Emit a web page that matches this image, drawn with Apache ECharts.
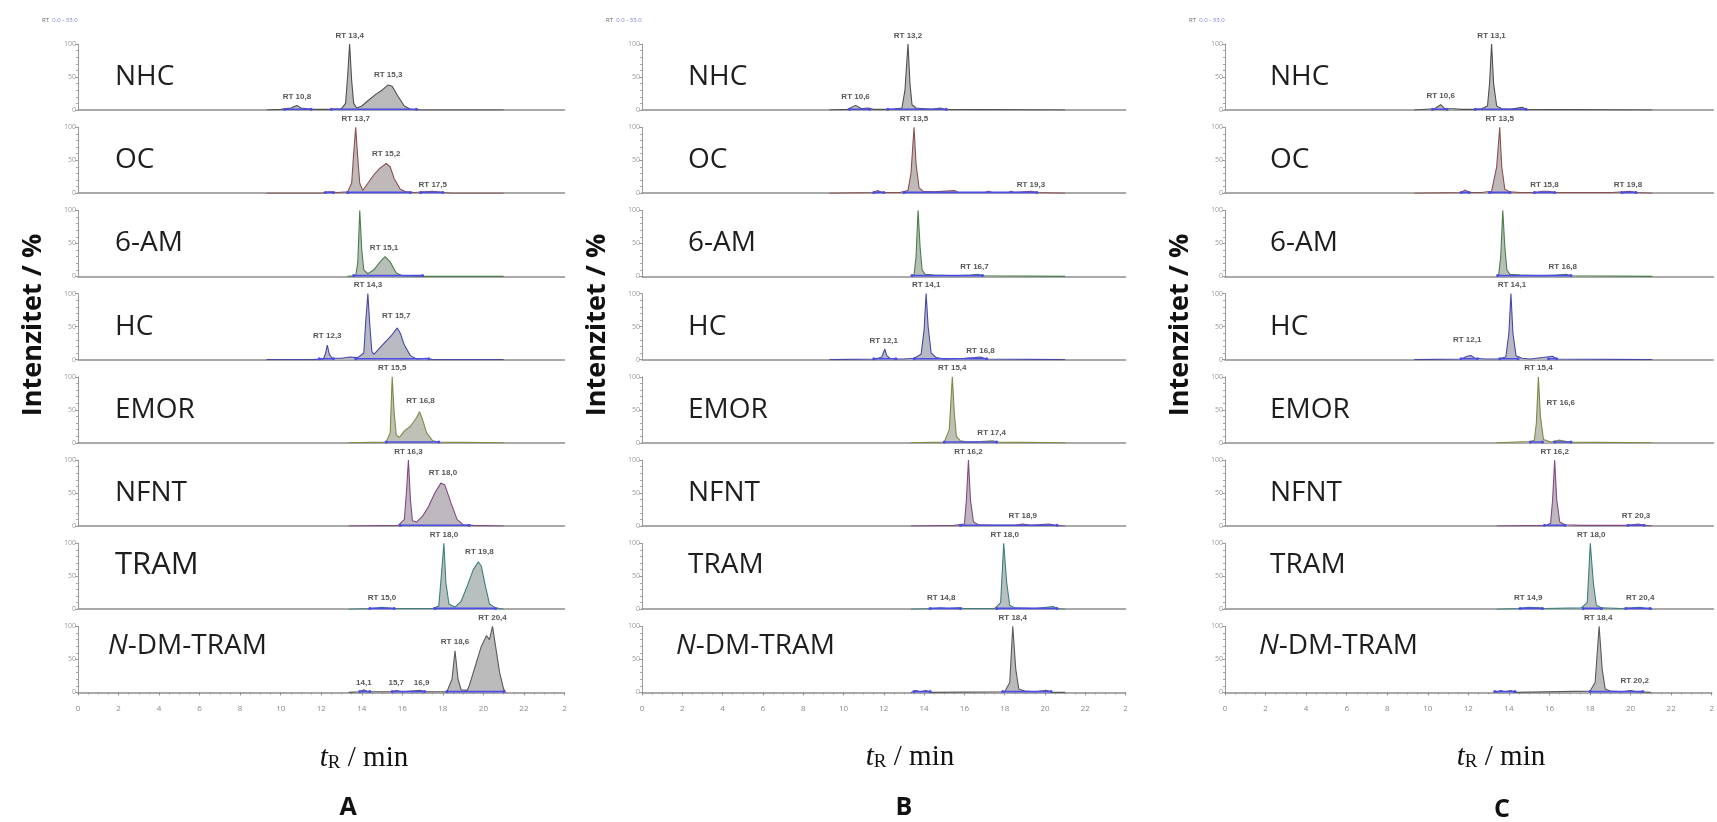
<!DOCTYPE html>
<html><head><meta charset="utf-8">
<script src="https://cdn.jsdelivr.net/npm/echarts@6/dist/echarts.min.js"></script>
<style>html,body{margin:0;padding:0;background:#fff}#c{width:1717px;height:822px}</style>
</head><body><div id="c"></div>
<script>
// ---------- categories & tick labels ----------
const compounds = ['NHC','OC','6-AM','HC','EMOR','NFNT','TRAM','N-DM-TRAM'];
const panelNames = ['A','B','C'];
const xTickLabels = ['0','2','4','6','8','10','12','14','16','18','20','22','2'];
const yTickLabels = {0:'0',50:'50',100:'100'};

// ---------- panel A traces [time min, intensity %] ----------
const A_NHC = [[9.3,0],[10.0,1],[10.5,3],[10.8,7],[11.0,3],[11.3,2],[11.6,1],[12.5,1],[13.0,2],[13.2,10],[13.3,50],[13.4,100],[13.5,45],[13.6,10],[13.75,3],[14.0,6],[14.3,14],[14.7,24],[15.0,30],[15.3,38],[15.5,36],[15.8,20],[16.1,6],[16.4,1],[17.0,0],[21.0,0]];
const A_OC = [[9.3,0],[12.0,0],[12.4,2],[12.8,1],[13.3,2],[13.5,15],[13.6,60],[13.7,100],[13.8,55],[13.9,15],[14.05,4],[14.3,15],[14.6,28],[14.9,38],[15.2,45],[15.4,40],[15.6,22],[15.9,6],[16.2,2],[16.6,1],[17.5,3],[18.0,1],[18.5,0],[21.0,0]];
const A_6AM = [[13.3,0],[13.7,1],[13.8,20],[13.9,100],[14.0,40],[14.1,10],[14.3,4],[14.6,10],[14.9,22],[15.15,30],[15.4,22],[15.7,5],[16.0,1],[17.0,0],[21.0,0]];
const A_HC = [[9.3,0],[11.5,0],[12.1,1],[12.2,8],[12.3,22],[12.4,8],[12.55,2],[13.0,2],[13.4,4],[13.8,3],[14.1,10],[14.2,60],[14.3,100],[14.4,50],[14.5,12],[14.6,8],[14.9,18],[15.2,28],[15.5,38],[15.75,48],[15.9,40],[16.1,22],[16.4,6],[16.7,1],[17.2,2],[17.5,0],[21.0,0]];
const A_EMOR = [[13.35,0],[15.2,1],[15.4,15],[15.5,100],[15.6,45],[15.7,12],[15.85,8],[16.1,18],[16.4,25],[16.7,38],[16.85,47],[17.0,35],[17.2,15],[17.5,3],[17.8,1],[21.0,0]];
const A_NFNT = [[13.35,0],[15.8,1],[16.1,10],[16.2,50],[16.3,100],[16.4,40],[16.5,8],[16.7,6],[17.0,15],[17.3,30],[17.6,50],[17.9,65],[18.1,62],[18.4,35],[18.7,10],[19.0,2],[19.5,1],[21.0,0]];
const A_TRAM = [[13.35,0],[14.5,1],[15.0,3],[15.5,1],[16.5,1],[17.5,1],[17.8,5],[17.95,60],[18.05,100],[18.15,40],[18.3,8],[18.6,3],[18.9,12],[19.2,35],[19.5,60],[19.75,72],[19.9,65],[20.1,35],[20.3,8],[20.6,2],[21.0,0]];
const A_NDM = [[13.35,0],[13.9,1],[14.1,4],[14.3,1],[15.5,1],[15.7,3],[16.0,1],[16.9,3],[17.2,1],[18.2,1],[18.45,20],[18.6,63],[18.75,20],[18.9,4],[19.2,3],[19.3,10],[19.6,40],[19.9,70],[20.15,86],[20.3,80],[20.45,100],[20.6,70],[20.8,30],[21.0,5],[21.1,0]];

// ---------- panel B traces ----------
const B_NHC = [[9.3,0],[10.2,1],[10.6,7],[10.9,2],[11.2,3],[11.5,1],[12.4,1],[12.9,3],[13.05,30],[13.2,100],[13.3,40],[13.4,8],[13.6,3],[14.0,2],[14.4,1],[14.8,3],[15.0,1],[21.0,0]];
const B_OC = [[9.3,0],[11.5,1],[11.7,4],[11.9,1],[12.8,1],[13.2,4],[13.35,30],[13.5,100],[13.6,45],[13.75,8],[13.95,3],[14.5,2],[15.5,4],[15.7,1],[17.0,1],[17.2,3],[17.4,1],[18.2,1],[18.3,3],[18.5,1],[19.3,3],[19.6,1],[21.0,0]];
const B_6AM = [[13.35,0],[13.5,2],[13.6,30],[13.7,100],[13.8,45],[13.9,10],[14.05,3],[14.5,2],[15.5,1],[16.3,2],[16.7,3],[17.0,1],[21.0,0]];
const B_HC = [[9.3,0],[11.6,1],[11.9,4],[12.05,16],[12.15,6],[12.3,2],[12.6,1],[13.0,1],[13.5,2],[13.85,8],[14.0,45],[14.1,100],[14.2,50],[14.35,10],[14.6,3],[15.0,1],[16.0,2],[16.5,3],[16.8,4],[17.1,1],[21.0,0]];
const B_EMOR = [[13.35,0],[15.0,1],[15.25,20],[15.4,100],[15.5,45],[15.6,10],[15.8,3],[16.2,1],[16.8,2],[17.4,3],[17.7,1],[21.0,0]];
const B_NFNT = [[13.35,0],[15.5,1],[16.0,3],[16.1,40],[16.2,100],[16.3,40],[16.45,6],[16.7,2],[17.5,1],[18.5,1],[18.9,3],[19.3,1],[20.2,3],[20.5,1],[21.0,0]];
const B_TRAM = [[13.35,0],[14.5,1],[14.8,2],[15.2,1],[15.7,2],[16.0,1],[17.5,1],[17.8,10],[17.95,100],[18.1,40],[18.25,6],[18.5,2],[19.5,1],[20.4,4],[20.6,1],[21.0,0]];
const B_NDM = [[13.35,0],[13.6,3],[13.8,1],[14.1,3],[14.3,0],[18.0,1],[18.25,15],[18.4,100],[18.55,35],[18.7,5],[19.0,2],[19.5,1],[20.1,3],[20.4,0],[21.0,0]];

// ---------- panel C traces ----------
const C_NHC = [[9.3,0],[10.3,2],[10.6,8],[10.8,2],[11.2,2],[11.6,1],[12.2,1],[12.6,2],[12.9,6],[13.0,40],[13.1,100],[13.2,40],[13.35,6],[13.6,2],[14.0,1],[14.6,4],[14.8,1],[21.0,0]];
const C_OC = [[9.3,0],[11.6,1],[11.8,5],[12.0,1],[12.6,1],[13.1,3],[13.35,40],[13.5,100],[13.6,40],[13.75,6],[14.0,2],[14.5,1],[15.3,1],[15.6,3],[15.9,3],[16.2,1],[19.0,1],[19.6,2],[19.9,3],[20.2,1],[21.0,0]];
const C_6AM = [[13.35,0],[13.45,3],[13.55,30],[13.65,100],[13.75,45],[13.85,10],[14.0,3],[14.5,2],[15.5,1],[16.3,2],[16.8,3],[17.0,1],[21.0,0]];
const C_HC = [[9.3,0],[11.6,1],[11.9,5],[12.1,6],[12.3,2],[12.8,1],[13.4,1],[13.8,4],[13.95,40],[14.05,100],[14.15,40],[14.3,6],[14.6,2],[15.0,1],[16.1,5],[16.3,1],[21.0,0]];
const C_EMOR = [[13.35,0],[15.0,2],[15.2,4],[15.3,30],[15.4,100],[15.5,40],[15.65,5],[16.0,1],[16.4,4],[16.6,3],[16.9,1],[21.0,0]];
const C_NFNT = [[13.35,0],[15.8,1],[16.0,4],[16.1,40],[16.2,100],[16.3,40],[16.45,6],[16.7,2],[17.5,1],[19.8,1],[20.3,3],[20.6,1],[21.0,0]];
const C_TRAM = [[13.35,0],[14.5,1],[14.9,3],[15.4,2],[15.7,1],[17.5,2],[17.8,10],[17.95,100],[18.1,40],[18.25,6],[18.5,2],[19.5,1],[20.0,2],[20.4,3],[20.7,1],[21.0,0]];
const C_NDM = [[13.35,0],[13.6,3],[13.8,1],[14.1,3],[14.3,0],[18.0,2],[18.25,15],[18.45,100],[18.6,35],[18.75,5],[19.0,2],[19.6,1],[20.0,3],[20.3,1],[21.0,0]];

// ---------- integration windows [start, end] (min) ----------
const A_integ = [[[10.2,11.5],[12.5,16.7]],[[12.2,12.6],[13.3,16.4],[16.9,18.0]],[[13.6,17.0]],[[11.9,12.6],[13.7,17.3]],[[15.2,17.8]],[[15.9,19.3]],[[14.4,15.6],[17.6,20.6]],[[13.9,14.4],[15.5,17.1],[18.2,21.0]]];
const B_integ = [[[10.3,11.3],[12.2,15.1]],[[11.5,12.0],[13.0,19.6]],[[13.4,16.9]],[[11.5,12.6],[13.5,17.1]],[[15.0,17.6]],[[15.8,20.6]],[[14.3,15.8],[17.6,20.6]],[[13.5,14.3],[17.9,20.3]]];
const C_integ = [[[10.2,10.9],[12.3,14.8]],[[11.6,12.0],[13.0,14.0],[15.2,16.2],[19.5,20.2]],[[13.4,17.0]],[[11.6,12.4],[13.5,14.4],[15.9,16.3]],[[15.0,15.6],[16.2,17.0]],[[15.7,16.7],[19.8,20.6]],[[14.5,15.6],[17.6,18.5],[19.7,20.9]],[[13.3,14.3],[18.0,20.6]]];

// ---------- peak annotations [text, time, label level %] ----------
const A_rt = [
 [['RT 10,8',10.8,20],['RT 13,4',13.4,113],['RT 15,3',15.3,54]],
 [['RT 13,7',13.7,113],['RT 15,2',15.2,60],['RT 17,5',17.5,13]],
 [['RT 15,1',15.1,44]],
 [['RT 12,3',12.3,36],['RT 14,3',14.3,113],['RT 15,7',15.7,66]],
 [['RT 15,5',15.5,113],['RT 16,8',16.9,64]],
 [['RT 16,3',16.3,113],['RT 18,0',18.0,80]],
 [['RT 15,0',15.0,17],['RT 18,0',18.05,113],['RT 19,8',19.8,87]],
 [['14,1',14.1,15],['15,7',15.7,15],['16,9',16.95,15],['RT 18,6',18.6,76],['RT 20,4',20.45,113]]
];
const B_rt = [
 [['RT 10,6',10.6,20],['RT 13,2',13.2,113]],
 [['RT 13,5',13.5,113],['RT 19,3',19.3,12]],
 [['RT 16,7',16.5,15]],
 [['RT 12,1',12.0,28],['RT 14,1',14.1,113],['RT 16,8',16.8,14]],
 [['RT 15,4',15.4,113],['RT 17,4',17.35,15]],
 [['RT 16,2',16.2,113],['RT 18,9',18.9,15]],
 [['RT 14,8',14.85,17],['RT 18,0',18.0,113]],
 [['RT 18,4',18.4,113]]
];
const C_rt = [
 [['RT 10,6',10.6,22],['RT 13,1',13.1,113]],
 [['RT 13,5',13.5,113],['RT 15,8',15.7,13],['RT 19,8',19.8,13]],
 [['RT 16,8',16.6,15]],
 [['RT 12,1',11.9,30],['RT 14,1',14.1,113]],
 [['RT 15,4',15.4,113],['RT 16,6',16.5,60]],
 [['RT 16,2',16.2,113],['RT 20,3',20.2,15]],
 [['RT 14,9',14.9,17],['RT 18,0',18.0,113],['RT 20,4',20.4,17]],
 [['RT 18,4',18.4,113],['RT 20,2',20.2,17]]
];

const traces = [[A_NHC,A_OC,A_6AM,A_HC,A_EMOR,A_NFNT,A_TRAM,A_NDM],[B_NHC,B_OC,B_6AM,B_HC,B_EMOR,B_NFNT,B_TRAM,B_NDM],[C_NHC,C_OC,C_6AM,C_HC,C_EMOR,C_NFNT,C_TRAM,C_NDM]];
const integs = [A_integ,B_integ,C_integ];
const rts = [A_rt,B_rt,C_rt];

// ---------- styling / layout ----------
const lineColors = ['#505050','#8a5050','#4a7f4a','#4848a8','#7f8a45','#854885','#3d7f7f','#5a5a5a'];
const fillColors = ['#bababa','#bfb9b9','#b8bfb8','#b9b9c2','#bfc0b6','#bdb8bd','#b7bfbf','#bbbbbb'];
const panelX = [78, 642, 1225];
const pxPerMin = [20.27, 20.15, 20.35];
const baseY0 = 110, rowStep = 83.2, plotH = 66;
const nameDY = [-33,-33,-33,-33,-33,-33,-44,-46];
const nameDX = [[37,37,37,37,37,37,37,30],[46,46,46,46,46,46,46,34],[45,45,45,45,45,45,45,34]];
const SANS = '"Open Sans", "Noto Sans", sans-serif';
const SERIF = '"Liberation Serif", "DejaVu Serif", serif';

const grids=[], xAxes=[], yAxes=[], series=[], graphics=[];
for (let p=0;p<3;p++){
  for (let r=0;r<8;r++){
    const i = p*8+r;
    const base = baseY0 + rowStep*r;
    const bottom = r===7;
    grids.push({left:panelX[p], top:base-plotH, width:24*pxPerMin[p], height:plotH, containLabel:false});
    xAxes.push({gridIndex:i, type:'value', min:0, max:24, interval:2,
      axisLine:{show:true, onZero:false, lineStyle:{color:'#8e8e8e', width:1.6}},
      axisTick:{show:bottom, length:3, lineStyle:{color:'#8e8e8e'}},
      minorTick:{show:bottom, splitNumber:4, length:2, lineStyle:{color:'#9a9a9a'}},
      axisLabel:{show:bottom, fontSize:8, color:'#8a8a8a', margin:12, fontFamily:SANS,
        formatter:v=>xTickLabels[Math.round(v/2)]},
      splitLine:{show:false}});
    yAxes.push({gridIndex:i, type:'value', min:0, max:100, interval:50,
      axisLine:{show:true, lineStyle:{color:'#9a9a9a', width:1}},
      axisTick:{show:true, length:3, lineStyle:{color:'#9a9a9a'}},
      minorTick:{show:true, splitNumber:5, length:2, lineStyle:{color:'#a8a8a8'}},
      axisLabel:{show:true, fontSize:7, color:'#9a9a9a', margin:2, fontFamily:SANS, formatter:v=>yTickLabels[v]},
      splitLine:{show:false}});
    series.push({type:'line', xAxisIndex:i, yAxisIndex:i, data:traces[p][r], showSymbol:false, silent:true,
      lineStyle:{color:lineColors[r], width:1.1}, areaStyle:{color:fillColors[r], opacity:1}, z:3, animation:false});
    const seg=[];
    integs[p][r].forEach((w,k)=>{ if(k>0) seg.push([w[0]-0.01,'-']); seg.push([w[0],1.2]); seg.push([w[1],1.2]); });
    series.push({type:'line', xAxisIndex:i, yAxisIndex:i, data:seg, connectNulls:false, showSymbol:true, symbol:'circle', symbolSize:3,
      itemStyle:{color:'#4b4be6'}, lineStyle:{color:'#4b4be6', width:1.6}, silent:true, z:4, animation:false});
    series.push({type:'scatter', xAxisIndex:i, yAxisIndex:i, clip:false, symbolSize:0, silent:true, z:5, animation:false,
      data:rts[p][r].map(a=>[a[1],a[2],a[0]]),
      label:{show:true, position:'inside', formatter:q=>q.data[2], fontSize:8, fontWeight:'bold', color:'#2a2a2a', fontFamily:'"Liberation Sans Narrow", "Liberation Sans", sans-serif'}});
    const nm = compounds[r];
    const big = (p===0 && r===6) ? 31 : 28;
    graphics.push({type:'text', x:panelX[p]+nameDX[p][r], y:base+nameDY[r], silent:true,
      style:{text: nm==='N-DM-TRAM' ? '{i|N}{n|-DM-TRAM}' : nm, fontSize:big, fontFamily:SANS, fill:'#1e1e1e', verticalAlign:'middle', align:'left',
        rich:{i:{fontStyle:'italic', fontSize:big, fontFamily:SANS, fill:'#1e1e1e'}, n:{fontSize:big, fontFamily:SANS, fill:'#1e1e1e'}}}});
  }
  graphics.push({type:'text', x:panelX[p]-36, y:20, silent:true,
    style:{text:'{a|RT} {b|0.0 - 33.0}', verticalAlign:'middle', rich:{a:{fontSize:6, fill:'#666', fontFamily:SANS}, b:{fontSize:6, fill:'#7b7bd8', fontFamily:SANS}}}});
  graphics.push({type:'text', x:panelX[p]-45, y:325, rotation:Math.PI/2, silent:true,
    style:{text:'Intenzitet / %', fontSize:27, fontWeight:'bold', fontFamily:SANS, fill:'#111', align:'center', verticalAlign:'middle'}});
}
const xTitlePos = [[364,758],[910,757],[1501,757]];
const letterPos = [[348,808],[904,808],[1502,810]];
for (let p=0;p<3;p++){
  graphics.push({type:'text', x:xTitlePos[p][0], y:xTitlePos[p][1], silent:true,
    style:{text:'{t|t}{r|R}{m| / min}', align:'center', verticalAlign:'middle',
      rich:{t:{fontSize:29, fontStyle:'italic', fontFamily:SERIF, fill:'#111'},
            r:{fontSize:19, fontFamily:SERIF, fill:'#111', padding:[11,0,0,0]},
            m:{fontSize:29, fontFamily:SERIF, fill:'#111'}}}});
  graphics.push({type:'text', x:letterPos[p][0], y:letterPos[p][1], silent:true,
    style:{text:panelNames[p], fontSize:25, fontWeight:'bold', fontFamily:SANS, fill:'#111', align:'center', verticalAlign:'middle'}});
}

const chart = echarts.init(document.getElementById('c'), null, {renderer:'canvas'});
chart.setOption({animation:false, backgroundColor:'#fff', grid:grids, xAxis:xAxes, yAxis:yAxes, series:series, graphic:graphics});
</script></body></html>
